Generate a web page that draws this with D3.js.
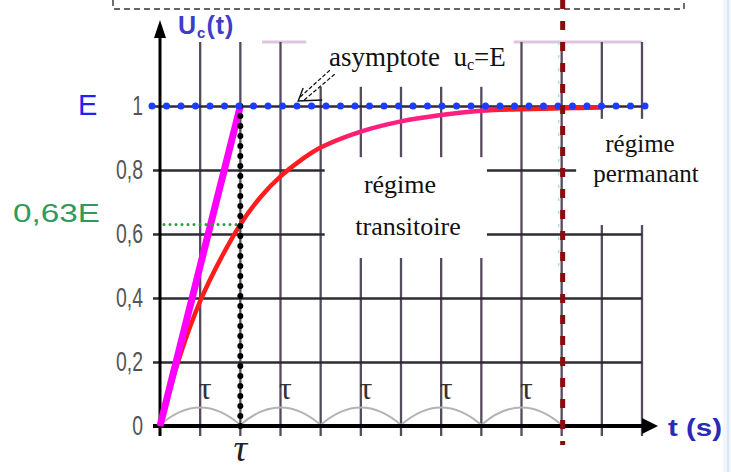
<!DOCTYPE html>
<html><head><meta charset="utf-8">
<script src="https://cdn.jsdelivr.net/npm/d3@7"></script>
<style>html,body{margin:0;padding:0;background:#fff;}svg{display:block;}</style>
</head><body>
<svg id="c" width="731" height="472"></svg>
<script>
// ---- data (time in units of tau, voltage in units of E) ----
const yTicks = [0, 0.2, 0.4, 0.6, 0.8, 1];
const yTickLabels = ["0", "0,2", "0,4", "0,6", "0,8", "1"];
const gridT = [0.5, 1, 1.5, 2, 2.5, 3, 3.5, 4, 4.5, 5, 5.5, 6];
const chargeT = [0, 0.25, 0.5, 0.75, 1, 1.25, 1.5, 1.75, 2, 2.5, 3, 3.5, 4, 4.5, 5, 5.5];
const chargeU = [0, 0.22, 0.39, 0.52, 0.63, 0.715, 0.78, 0.83, 0.87, 0.92, 0.952, 0.972, 0.985, 0.99, 0.993, 0.995];
const tangentT = [0, 1];
const tangentU = [0, 1];
const asymptoteU = 1;
const u63 = 0.63;
const tauValue = 1;
const steadyT = 5;
const tauArcStarts = [0, 1, 2, 3, 4];
const topU = 1.2;
const pinkBars = [[1.27, 1.82], [4.4, 6.0]];
// label cover boxes [t0, t1, uTop, uBottom]
const coverBoxes = [[1.87, 4.4, 1.25, 1.06], [2.05, 4.07, 0.84, 0.525], [5.18, 6.98, 0.96, 0.628]];

const svg = d3.select("#c");
const x = d3.scaleLinear().domain([0, 6]).range([160, 642]);
const y = d3.scaleLinear().domain([0, 1]).range([426, 106]);

// right light-blue border
svg.append("rect").attr("x", 723).attr("y", 0).attr("width", 8).attr("height", 472).attr("fill", "#f1f5fc");
svg.append("line").attr("x1", 728).attr("x2", 728).attr("y1", 0).attr("y2", 472).attr("stroke", "#dbe6f5").attr("stroke-width", 2);

// dashed box at top
svg.append("path").attr("d", "M113,0V9H684V0").attr("fill", "none")
  .attr("stroke", "#333").attr("stroke-width", 1.4).attr("stroke-dasharray", "6,4");

// pink top bars
svg.append("g").selectAll("line").data(pinkBars).join("line")
  .attr("x1", d => x(d[0])).attr("x2", d => x(d[1]))
  .attr("y1", y(topU)).attr("y2", y(topU))
  .attr("stroke", "#dcc6dc").attr("stroke-width", 3);

// vertical grid lines
svg.append("g").selectAll("line").data(gridT).join("line")
  .attr("x1", d => x(d)).attr("x2", d => x(d))
  .attr("y1", y(topU)).attr("y2", y(0) + 10)
  .attr("stroke", "#554b5c").attr("stroke-width", 2.3);

// horizontal grid lines + y labels via axis
const yAxis = d3.axisLeft(y).tickValues(yTicks)
  .tickFormat((d, i) => yTickLabels[i])
  .tickSizeInner(-(x(6) - x(0))).tickSizeOuter(0).tickPadding(17);
const gy = svg.append("g").attr("transform", `translate(${x(0)},0)`).call(yAxis);
gy.select(".domain").remove();
gy.selectAll(".tick line").attr("x1", -7).attr("stroke", "#2f2a33").attr("stroke-width", 2.6);
gy.selectAll(".tick text")
  .attr("font-family", "Liberation Sans, Arial, sans-serif")
  .attr("font-size", 27).attr("fill", "#555")
  .each(function () {
    const len = this.getComputedTextLength();
    d3.select(this).attr("textLength", len * 0.72).attr("lengthAdjust", "spacingAndGlyphs");
  });

// white cover boxes behind labels
svg.append("g").selectAll("rect").data(coverBoxes).join("rect")
  .attr("x", d => x(d[0])).attr("y", d => y(d[2]))
  .attr("width", d => x(d[1]) - x(d[0])).attr("height", d => y(d[3]) - y(d[2]))
  .attr("fill", "#fff");

// cyan artefact line near steady state marker
svg.append("line").attr("x1", x(steadyT) - 3).attr("x2", x(steadyT) - 3)
  .attr("y1", y(topU)).attr("y2", y(0.5))
  .attr("stroke", "#9fe6f0").attr("stroke-width", 1.5).attr("stroke-dasharray", "3,10");

// tau arcs
svg.append("g").selectAll("path").data(tauArcStarts).join("path")
  .attr("d", d => `M${x(d)},${y(0) - 1}Q${x(d + 0.5)},${y(0) - 36} ${x(d + 1)},${y(0) - 1}`)
  .attr("fill", "none").attr("stroke", "#b3b3b3").attr("stroke-width", 2);
svg.append("g").selectAll("text").data(tauArcStarts).join("text")
  .attr("x", d => x(d + 0.5) + 5).attr("y", y(0) - 27)
  .attr("text-anchor", "middle")
  .attr("font-family", "Liberation Serif, Times New Roman, serif")
  .attr("font-size", 32).attr("fill", "#333").text("τ");

// axes lines
svg.append("line").attr("x1", x(0) - 7).attr("x2", x(6) + 2).attr("y1", y(0)).attr("y2", y(0))
  .attr("stroke", "#000").attr("stroke-width", 4);
svg.append("path").attr("d", `M${x(6) + 16},${y(0)}L${x(6)},${y(0) - 8}L${x(6)},${y(0) + 8}Z`).attr("fill", "#000");
svg.append("line").attr("x1", x(0)).attr("x2", x(0)).attr("y1", y(0) + 10).attr("y2", 36)
  .attr("stroke", "#000").attr("stroke-width", 3);
svg.append("path").attr("d", `M${x(0)},20L${x(0) - 6},38L${x(0) + 6},38Z`).attr("fill", "#000");

// charge curve (red, turning pinkish in the middle)
const grad = svg.append("defs").append("linearGradient").attr("id", "rg")
  .attr("gradientUnits", "userSpaceOnUse").attr("x1", x(0)).attr("x2", x(6)).attr("y1", 0).attr("y2", 0);
grad.append("stop").attr("offset", "0.3").attr("stop-color", "#ff1c1c");
grad.append("stop").attr("offset", "0.42").attr("stop-color", "#ff1f80");
grad.append("stop").attr("offset", "0.66").attr("stop-color", "#ff1f80");
grad.append("stop").attr("offset", "0.72").attr("stop-color", "#ff1c1c");
const line = d3.line().x(d => x(d[0])).y(d => y(d[1])).curve(d3.curveCatmullRom.alpha(0.5));
svg.append("path").datum(chargeT.map((t, i) => [t, chargeU[i]]))
  .attr("d", line).attr("fill", "none").attr("stroke", "url(#rg)").attr("stroke-width", 4.5);

// tangent at origin (magenta)
svg.append("path").datum(tangentT.map((t, i) => [t, tangentU[i]]))
  .attr("d", d3.line().x(d => x(d[0])).y(d => y(d[1])))
  .attr("stroke", "#ff00ff").attr("stroke-width", 7).attr("fill", "none");

// 0.63E green dotted
svg.append("line").attr("x1", x(0) + 4).attr("x2", x(tauValue)).attr("y1", y(u63)).attr("y2", y(u63))
  .attr("stroke", "#2f9c3c").attr("stroke-width", 3).attr("stroke-linecap", "round").attr("stroke-dasharray", "0,6");

// tau black dotted vertical
svg.append("line").attr("x1", x(tauValue)).attr("x2", x(tauValue)).attr("y1", y(1)).attr("y2", y(0) + 6)
  .attr("stroke", "#000").attr("stroke-width", 6).attr("stroke-linecap", "round").attr("stroke-dasharray", "0,10");

// asymptote blue dotted
svg.append("line").attr("x1", x(0) - 8).attr("x2", x(6) + 4).attr("y1", y(asymptoteU)).attr("y2", y(asymptoteU))
  .attr("stroke", "#1c3cff").attr("stroke-width", 7).attr("stroke-linecap", "round").attr("stroke-dasharray", "0,14.5");

// steady state red dashed vertical
svg.append("line").attr("x1", x(steadyT) + 1).attr("x2", x(steadyT) + 1).attr("y1", 0).attr("y2", y(0) + 19)
  .attr("stroke", "#8a0c0c").attr("stroke-width", 5).attr("stroke-dasharray", "9,12");

// asymptote arrow
const tip = [x(1.72), y(asymptoteU) - 5];
const ag = svg.append("g").attr("stroke", "#111").attr("fill", "none");
ag.append("line").attr("x1", tip[0] + 2).attr("y1", tip[1] - 4).attr("x2", tip[0] + 33).attr("y2", tip[1] - 32).attr("stroke-width", 1.2).attr("stroke-dasharray", "4,2");
ag.append("line").attr("x1", tip[0] + 6).attr("y1", tip[1] - 1).attr("x2", tip[0] + 38).attr("y2", tip[1] - 28).attr("stroke-width", 1.2).attr("stroke-dasharray", "4,2");
ag.append("path").attr("d", `M${tip[0] + 24},${tip[1] - 1}L${tip[0]},${tip[1]}L${tip[0] + 5},${tip[1] - 13}`).attr("stroke-width", 1.4);

// texts
const serif = "Liberation Serif, Times New Roman, serif";
const sans = "Liberation Sans, Arial, sans-serif";
const at = svg.append("text").attr("x", 329).attr("y", 66).attr("font-family", serif).attr("font-size", 27).attr("fill", "#111");
at.append("tspan").text("asymptote\u00a0\u00a0u");
at.append("tspan").attr("font-size", 16).attr("dy", 4).text("c");
at.append("tspan").attr("dy", -4).text("=E");

svg.append("text").attr("x", 400).attr("y", 193).attr("text-anchor", "middle").attr("font-family", serif).attr("font-size", 26).attr("fill", "#111").text("régime");
svg.append("text").attr("x", 408).attr("y", 235).attr("text-anchor", "middle").attr("font-family", serif).attr("font-size", 26).attr("fill", "#111").text("transitoire");
svg.append("text").attr("x", 640).attr("y", 152).attr("text-anchor", "middle").attr("font-family", serif).attr("font-size", 25).attr("fill", "#111").text("régime");
svg.append("text").attr("x", 646).attr("y", 182).attr("text-anchor", "middle").attr("font-family", serif).attr("font-size", 25).attr("fill", "#111").text("permanant");

svg.append("text").attr("x", 78).attr("y", 115).attr("font-family", sans).attr("font-size", 29).attr("fill", "#2020ff").text("E");
svg.append("text").attr("x", 13).attr("y", 222).attr("font-family", sans).attr("font-size", 26).attr("fill", "#2e9a5c")
  .attr("textLength", 87).attr("lengthAdjust", "spacingAndGlyphs").text("0,63E");

const uc = svg.append("text").attr("x", 178).attr("y", 34).attr("font-family", sans).attr("font-weight", "bold").attr("font-size", 25).attr("letter-spacing", 1).attr("fill", "#3d3dcc");
uc.append("tspan").text("U");
uc.append("tspan").attr("font-size", 15).attr("dy", 4).text("c");
uc.append("tspan").attr("dy", -4).text("(t)");

svg.append("text").attr("x", 668).attr("y", 436).attr("font-family", sans).attr("font-weight", "bold").attr("font-size", 23).attr("fill", "#2a2ab8")
  .attr("textLength", 54).attr("lengthAdjust", "spacingAndGlyphs").text("t (s)");

svg.append("text").attr("x", x(tauValue)).attr("y", 461).attr("text-anchor", "middle").attr("font-family", serif)
  .attr("font-style", "italic").attr("font-size", 38).attr("fill", "#222").text("τ");
</script>
</body></html>
